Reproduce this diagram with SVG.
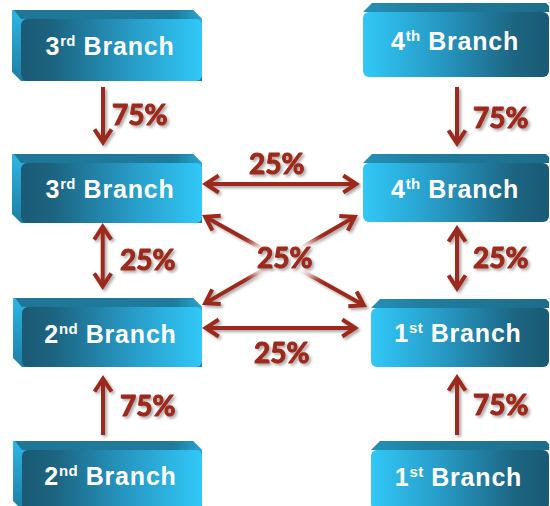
<svg xmlns="http://www.w3.org/2000/svg" width="550" height="506" viewBox="0 0 550 506">
<defs>
  <linearGradient id="frontL" x1="0" y1="0" x2="1" y2="0">
    <stop offset="0" stop-color="#1a5a74"/>
    <stop offset="0.18" stop-color="#1c6481"/>
    <stop offset="0.6" stop-color="#279ac5"/>
    <stop offset="1" stop-color="#31c8f7"/>
  </linearGradient>
  <linearGradient id="frontR" x1="1" y1="0" x2="0" y2="0">
    <stop offset="0" stop-color="#1a5a74"/>
    <stop offset="0.18" stop-color="#1c6481"/>
    <stop offset="0.6" stop-color="#279ac5"/>
    <stop offset="1" stop-color="#31c8f7"/>
  </linearGradient>
  <linearGradient id="topL" x1="0" y1="0" x2="1" y2="0">
    <stop offset="0" stop-color="#1f7696"/>
    <stop offset="0.85" stop-color="#1f7b9c"/>
    <stop offset="1" stop-color="#2aa5d2"/>
  </linearGradient>
  <linearGradient id="topR" x1="0" y1="0" x2="1" y2="0">
    <stop offset="0" stop-color="#2590b8"/>
    <stop offset="0.3" stop-color="#1f7e9f"/>
    <stop offset="1" stop-color="#1c6d8a"/>
  </linearGradient>
  <linearGradient id="sideL" x1="0" y1="0" x2="0" y2="1">
    <stop offset="0" stop-color="#2db6e5"/>
    <stop offset="1" stop-color="#1e7ea3"/>
  </linearGradient>
  <filter id="shadow" x="-20%" y="-20%" width="140%" height="140%">
    <feDropShadow dx="2" dy="2" stdDeviation="1.5" flood-color="#000" flood-opacity="0.35"/>
  </filter>
  <filter id="glow" x="-50%" y="-50%" width="200%" height="200%">
    <feGaussianBlur stdDeviation="6"/>
  </filter>
  <marker id="ah" markerUnits="userSpaceOnUse" viewBox="-16 -12 22 24" refX="0" refY="0" markerWidth="22" markerHeight="24" orient="auto-start-reverse" overflow="visible">
    <path d="M-13,-8.5 L0,0 L-13,8.5" fill="none" stroke="#9b2a1d" stroke-width="4" stroke-linejoin="miter"/>
  </marker>
</defs>
<style>
  .fL { fill: url(#frontL); }
  .fR { fill: url(#frontR); }
  .tL { fill: url(#topL); }
  .tR { fill: url(#topR); }
  .sL { fill: url(#sideL); }
  .lbl { font-family: "Liberation Sans", Arial, sans-serif; font-weight: bold; font-size: 25px; fill: #ffffff; text-anchor: middle; letter-spacing: 0.8px; }
  .sup { font-size: 15px; letter-spacing: 0.3px; }
  .pct { font-family: Lato, "Open Sans", sans-serif; font-weight: 700; font-size: 28px; fill: #9c2b1e; stroke: #9c2b1e; stroke-width: 1.1px; stroke-linejoin: round; filter: url(#shadow); }
  .arr { fill: none; stroke: #9b2a1d; stroke-width: 4; marker-end: url(#ah); }
  .arr2 { marker-start: url(#ah); }
</style>

<rect width="550" height="506" fill="#ffffff"/>

<!-- Left column nodes -->
<g id="node-3rd-top">
  <polygon class="sL" points="12,10 193,10 202,19 202,81 21,81 12,72"/>
  <polygon class="tL" points="14,10 193,10 202,19 21,19"/>
  <rect class="fL" x="21" y="19" width="181" height="62" rx="6"/>
  <text class="lbl" x="110" y="54.5">3<tspan class="sup" dy="-9">rd</tspan><tspan dy="9"> Branch</tspan></text>
</g>
<g id="node-3rd-mid">
  <polygon class="sL" points="12,154 193,154 202,163 202,223 21,223 12,214"/>
  <polygon class="tL" points="14,154 193,154 202,163 21,163"/>
  <rect class="fL" x="21" y="163" width="181" height="60" rx="6"/>
  <text class="lbl" x="110" y="198">3<tspan class="sup" dy="-9">rd</tspan><tspan dy="9"> Branch</tspan></text>
</g>
<g id="node-2nd-mid">
  <polygon class="sL" points="13,298 193,298 202,307 202,367 22,367 13,358"/>
  <polygon class="tL" points="15,298 193,298 202,307 22,307"/>
  <rect class="fL" x="22" y="307" width="180" height="60" rx="6"/>
  <text class="lbl" x="110.5" y="342.5">2<tspan class="sup" dy="-9">nd</tspan><tspan dy="9"> Branch</tspan></text>
</g>
<g id="node-2nd-bottom">
  <polygon class="sL" points="13,441 193,441 202,450 202,510 22,510 13,501"/>
  <polygon class="tL" points="15,441 193,441 202,450 22,450"/>
  <rect class="fL" x="22" y="450" width="180" height="60" rx="6"/>
  <text class="lbl" x="110.5" y="485">2<tspan class="sup" dy="-9">nd</tspan><tspan dy="9"> Branch</tspan></text>
</g>

<!-- Right column nodes -->
<g id="node-4th-top">
  <polygon class="tR" points="363,12 372,3 546,3 549,6 549,12"/>
  <rect class="fR" x="363" y="12" width="186" height="65" rx="6"/>
  <text class="lbl" x="455" y="50">4<tspan class="sup" dy="-9">th</tspan><tspan dy="9"> Branch</tspan></text>
</g>
<g id="node-4th-mid">
  <polygon class="tR" points="363,163 372,154 546,154 549,157 549,163"/>
  <rect class="fR" x="363" y="163" width="186" height="59" rx="6"/>
  <text class="lbl" x="455" y="197.5">4<tspan class="sup" dy="-9">th</tspan><tspan dy="9"> Branch</tspan></text>
</g>
<g id="node-1st-mid">
  <polygon class="tR" points="371,308 380,299 546,299 549,302 549,308"/>
  <rect class="fR" x="371" y="308" width="178" height="59" rx="6"/>
  <text class="lbl" x="458" y="342">1<tspan class="sup" dy="-9">st</tspan><tspan dy="9"> Branch</tspan></text>
</g>
<g id="node-1st-bottom">
  <polygon class="tR" points="371,450 380,441 546,441 549,444 549,450"/>
  <rect class="fR" x="371" y="450" width="178" height="60" rx="6"/>
  <text class="lbl" x="458.5" y="485.5">1<tspan class="sup" dy="-9">st</tspan><tspan dy="9"> Branch</tspan></text>
</g>

<!-- Connectors -->
<g id="connectors" filter="url(#shadow)">
  <path class="arr" d="M103,87 L103,142.3"/>
  <path class="arr" d="M457,87 L457,143.3"/>
  <path class="arr arr2" d="M205.7,184 L356.3,184"/>
  <path class="arr arr2" d="M205.2,216.8 L363.8,305.2"/>
  <path class="arr arr2" d="M354.8,216.8 L205.2,303.2"/>
  <path class="arr arr2" d="M205.7,328 L355.3,328"/>
  <path class="arr arr2" d="M102.7,226.7 L102.7,286.3"/>
  <path class="arr arr2" d="M457,228.7 L457,288.3"/>
  <path class="arr" d="M103,435 L103,378.7"/>
  <path class="arr" d="M457,435 L457,377.7"/>
</g>

<!-- Labels -->
<g id="labels">
  <ellipse cx="285" cy="259" rx="42" ry="23" fill="#ffffff" filter="url(#glow)"/>
  <text class="pct" x="112" y="125">75%</text>
  <text class="pct" x="473" y="128">75%</text>
  <text class="pct" x="249" y="174">25%</text>
  <text class="pct" x="257" y="268">25%</text>
  <text class="pct" x="254" y="363">25%</text>
  <text class="pct" x="120" y="270">25%</text>
  <text class="pct" x="473" y="268">25%</text>
  <text class="pct" x="120" y="416">75%</text>
  <text class="pct" x="473" y="415">75%</text>
</g>
</svg>
